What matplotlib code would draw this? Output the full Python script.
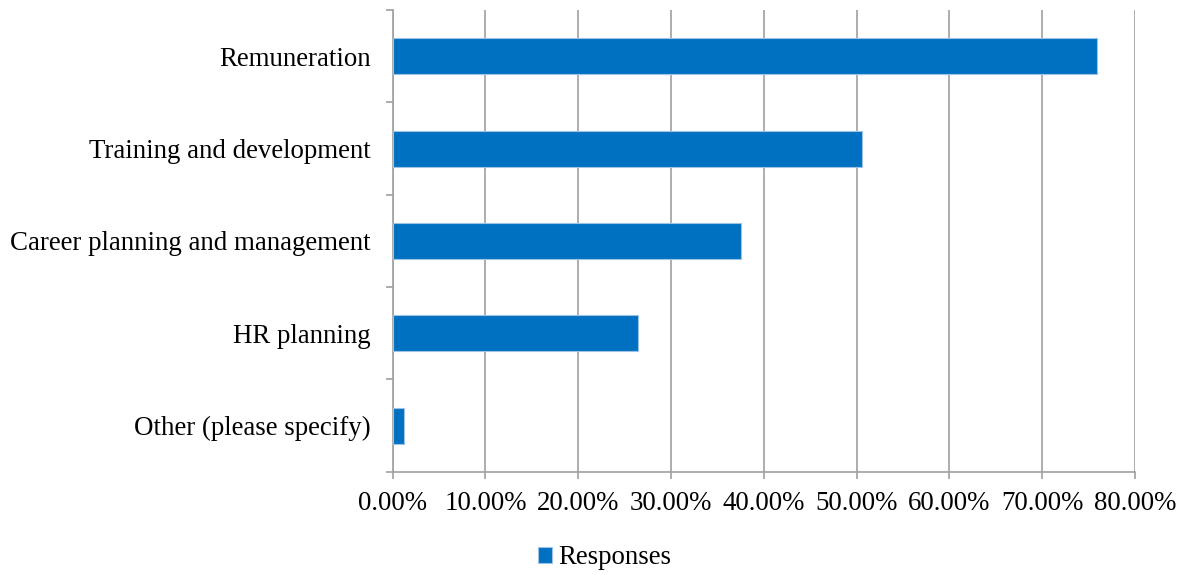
import matplotlib
matplotlib.use('Agg')
import matplotlib.pyplot as plt
from matplotlib.ticker import FixedLocator, PercentFormatter

categories = ['Remuneration', 'Training and development', 'Career planning and management',
              'HR planning', 'Other (please specify)']
responses = [75.9, 50.6, 37.5, 26.4, 1.2]
x_ticks = [0, 10, 20, 30, 40, 50, 60, 70, 80]

plt.rcParams['font.family'] = ['Liberation Serif', 'DejaVu Serif']
grid_color = '#A0A0A0'
fs = 19.4

fig = plt.figure(figsize=(11.87, 5.75), dpi=100)
ax = fig.add_axes([392.7 / 1187, 1 - 471.7 / 575, (1135 - 392.7) / 1187, (471.7 - 10) / 575])

y = list(range(len(categories)))
ax.barh(y, responses, height=0.39, color='#0070C0', edgecolor='#9DC3E6', linewidth=0.8,
        label='Responses', zorder=3)

ax.set_xlim(0, 80)
ax.set_ylim(len(categories) - 0.5, -0.5)

ax.set_xticks(x_ticks)
ax.xaxis.set_major_formatter(PercentFormatter(decimals=2))
ax.set_yticks(y)
ax.set_yticklabels(categories)
ax.yaxis.set_minor_locator(FixedLocator([i - 0.5 for i in range(len(categories) + 1)]))

ax.grid(axis='x', color=grid_color, linewidth=1.2, zorder=0)
for side in ['top', 'right']:
    ax.spines[side].set_visible(False)
for side in ['left', 'bottom']:
    ax.spines[side].set_color(grid_color)
    ax.spines[side].set_linewidth(1.2)

ax.tick_params(axis='x', length=5, width=1.2, color=grid_color, pad=9, labelsize=fs)
ax.tick_params(axis='y', which='major', length=0, pad=16, labelsize=fs)
ax.tick_params(axis='y', which='minor', length=5, width=1.2, color=grid_color)

fig.legend(loc='center', bbox_to_anchor=(605 / 1187, 1 - 558 / 575), frameon=False,
           fontsize=fs, handlelength=0.5, handleheight=0.5, handletextpad=0.25)

fig.savefig('out.png', dpi=100)
